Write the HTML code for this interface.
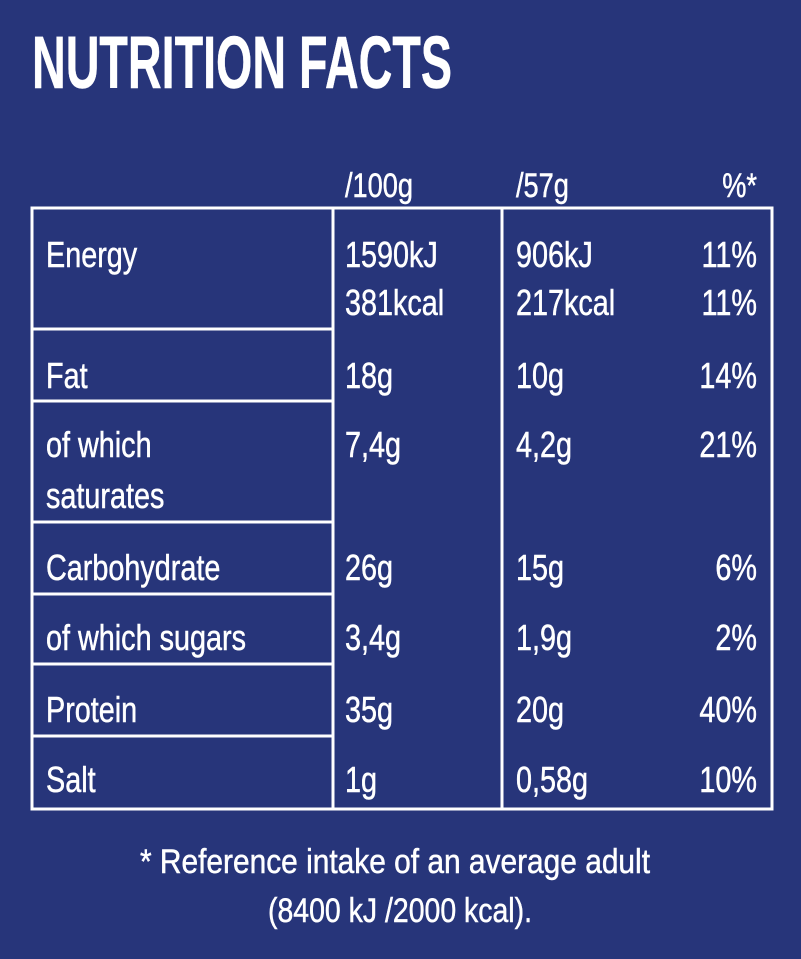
<!DOCTYPE html>
<html><head><meta charset="utf-8"><style>
html,body{margin:0;padding:0;background:#27357a;}
svg{display:block;}
text{font-family:"Liberation Sans",sans-serif;fill:#fff;stroke:#fff;stroke-width:0.5;}
</style></head><body>
<svg width="801" height="959" viewBox="0 0 801 959">
<rect x="0" y="0" width="801" height="959" fill="#27357a" stroke="none"/>
<text x="32" y="88" font-size="74" font-weight="bold" textLength="420" lengthAdjust="spacingAndGlyphs">NUTRITION FACTS</text>

<g font-size="34">
<text transform="translate(345,197) scale(0.8,1)">/100g</text>
<text transform="translate(516,197) scale(0.8,1)">/57g</text>
<text transform="translate(757,197) scale(0.8,1)" text-anchor="end">%*</text>
</g>

<g fill="none" stroke="#fff" stroke-width="3">
<rect x="32" y="208" width="740" height="601" fill="none"/>
<line x1="333" y1="208" x2="333" y2="809"/>
<line x1="502" y1="208" x2="502" y2="809"/>
<line x1="32" y1="329" x2="333" y2="329"/>
<line x1="32" y1="401" x2="333" y2="401"/>
<line x1="32" y1="522" x2="333" y2="522"/>
<line x1="32" y1="594" x2="333" y2="594"/>
<line x1="32" y1="664" x2="333" y2="664"/>
<line x1="32" y1="736" x2="333" y2="736"/>
</g>

<g font-size="36">
<text transform="translate(46,267) scale(0.8,1)">Energy</text>
<text transform="translate(345,267) scale(0.8,1)">1590kJ</text>
<text transform="translate(516,267) scale(0.8,1)">906kJ</text>
<text transform="translate(757,267) scale(0.8,1)" text-anchor="end">11%</text>
<text transform="translate(345,315) scale(0.8,1)">381kcal</text>
<text transform="translate(516,315) scale(0.8,1)">217kcal</text>
<text transform="translate(757,315) scale(0.8,1)" text-anchor="end">11%</text>

<text transform="translate(46,388) scale(0.8,1)">Fat</text>
<text transform="translate(345,388) scale(0.8,1)">18g</text>
<text transform="translate(516,388) scale(0.8,1)">10g</text>
<text transform="translate(757,388) scale(0.8,1)" text-anchor="end">14%</text>

<text transform="translate(46,457) scale(0.8,1)">of which</text>
<text transform="translate(46,508) scale(0.8,1)">saturates</text>
<text transform="translate(345,457) scale(0.8,1)">7,4g</text>
<text transform="translate(516,457) scale(0.8,1)">4,2g</text>
<text transform="translate(757,457) scale(0.8,1)" text-anchor="end">21%</text>

<text transform="translate(46,580) scale(0.8,1)">Carbohydrate</text>
<text transform="translate(345,580) scale(0.8,1)">26g</text>
<text transform="translate(516,580) scale(0.8,1)">15g</text>
<text transform="translate(757,580) scale(0.8,1)" text-anchor="end">6%</text>

<text transform="translate(46,650) scale(0.8,1)">of which sugars</text>
<text transform="translate(345,650) scale(0.8,1)">3,4g</text>
<text transform="translate(516,650) scale(0.8,1)">1,9g</text>
<text transform="translate(757,650) scale(0.8,1)" text-anchor="end">2%</text>

<text transform="translate(46,722) scale(0.8,1)">Protein</text>
<text transform="translate(345,722) scale(0.8,1)">35g</text>
<text transform="translate(516,722) scale(0.8,1)">20g</text>
<text transform="translate(757,722) scale(0.8,1)" text-anchor="end">40%</text>

<text transform="translate(46,792) scale(0.8,1)">Salt</text>
<text transform="translate(345,792) scale(0.8,1)">1g</text>
<text transform="translate(516,792) scale(0.8,1)">0,58g</text>
<text transform="translate(757,792) scale(0.8,1)" text-anchor="end">10%</text>
</g>

<text x="140" y="873" font-size="34" textLength="510" lengthAdjust="spacingAndGlyphs">* Reference intake of an average adult</text>
<text x="268" y="922" font-size="34" textLength="264" lengthAdjust="spacingAndGlyphs">(8400 kJ /2000 kcal).</text>
</svg>
</body></html>
